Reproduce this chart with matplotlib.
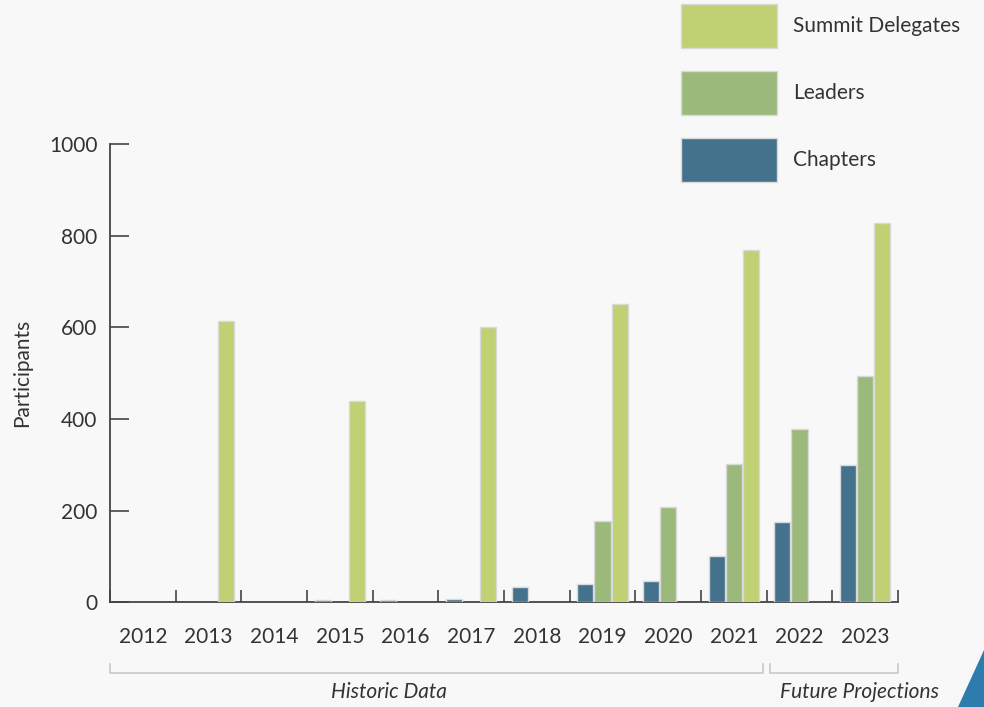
import numpy as np
import matplotlib.pyplot as plt
from matplotlib.patches import Polygon
import matplotlib.transforms as mtransforms

# data
years = ["2012", "2013", "2014", "2015", "2016", "2017", "2018",
         "2019", "2020", "2021", "2022", "2023"]
chapters = [0, 0, 0, 5, 5, 8, 33, 41, 46, 101, 175, 300]
leaders = [0, 0, 0, 0, 0, 0, 0, 177, 209, 301, 378, 493]
summit = [0, 614, 0, 439, 0, 601, 0, 651, 0, 768, 0, 828]
series_names = ["Chapters", "Leaders", "Summit Delegates"]
colors = ["#44728c", "#9cb97c", "#bfd173"]

BG = "#f8f8f8"
TXT = "#333333"

plt.rcParams["font.family"] = ["Lato", "DejaVu Sans"]

fig = plt.figure(figsize=(9.84, 7.07), dpi=100, facecolor=BG)
ax = fig.add_axes([0.1118, 0.148, 0.8008, 0.6482], facecolor=BG)

x = np.arange(len(years))
w = 0.245
offsets = [-0.26, 0.0, 0.26]
handles = []
for vals, name, col, off in zip([chapters, leaders, summit], series_names, colors, offsets):
    vals = np.array(vals)
    keep = vals > 0  # empty years get no bar at all
    h = ax.bar(x[keep] + off, vals[keep], width=w, color=col, edgecolor="#d9d9d9",
               linewidth=1.0, label=name, zorder=3)
    handles.append(h)

ax.set_xlim(-0.5, len(years) - 0.5)
ax.set_ylim(0, 1000)

for s in ["top", "right"]:
    ax.spines[s].set_visible(False)
for s in ["left", "bottom"]:
    ax.spines[s].set_color("#444444")
    ax.spines[s].set_linewidth(1.3)

# y axis
ax.set_yticks([0, 200, 400, 600, 800, 1000])
ax.tick_params(axis="y", direction="in", length=14, width=1.2, color="#444444",
               pad=9, labelsize=15, labelcolor=TXT)
ax.set_ylabel("Participants", fontsize=15, color=TXT, labelpad=12)

# x axis: boundary ticks, labels at category centres
ax.set_xticks(np.arange(len(years) + 1) - 0.5)
ax.set_xticklabels([])
ax.tick_params(axis="x", which="major", direction="in", length=8.5, width=1.2,
               color="#444444")
ax.set_xticks(x, minor=True)
ax.set_xticklabels(years, minor=True)
ax.tick_params(axis="x", which="minor", length=0, pad=18, labelsize=15, labelcolor=TXT)

# brackets under the axis
trans = mtransforms.blended_transform_factory(ax.transData, ax.transAxes)
yb_top, yb_line = -0.1346, -0.154
for x0, x1 in [(-0.5, 9.44), (9.545, 11.5)]:
    ax.plot([x0, x0, x1, x1], [yb_top, yb_line, yb_line, yb_top], color="#c8c8c8",
            lw=1.2, transform=trans, clip_on=False)
ax.text(3.75, -0.196, "Historic Data", transform=trans, ha="center", va="center",
        fontsize=15, style="italic", color=TXT)
ax.text(10.92, -0.196, "Future Projections", transform=trans, ha="center",
        va="center", fontsize=15, style="italic", color=TXT)

# legend, top right
leg = fig.legend(handles[::-1], series_names[::-1], loc="upper left",
                 bbox_to_anchor=(0.692, 0.995), frameon=False, fontsize=15,
                 handlelength=4.6, handleheight=2.9, labelspacing=1.1,
                 handletextpad=0.8, borderpad=0, borderaxespad=0)
for t in leg.get_texts():
    t.set_color(TXT)

# corner decoration
fig.patches.append(Polygon([[958 / 984, 0], [1, 0], [1, 57 / 707]], closed=True,
                           transform=fig.transFigure, facecolor="#2e7bad",
                           edgecolor="none"))

fig.savefig("out.png", dpi=100, facecolor=BG)
